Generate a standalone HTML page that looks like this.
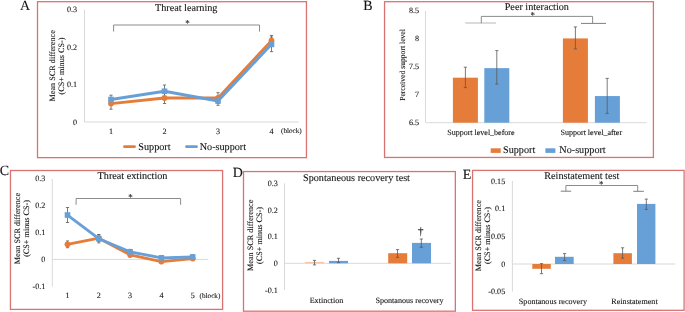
<!DOCTYPE html>
<html><head><meta charset="utf-8"><style>
html,body{margin:0;padding:0;background:#fff;}
body{width:685px;height:312px;overflow:hidden;}
svg{display:block;font-family:"Liberation Serif", serif;} text{stroke:#222;stroke-width:0.1px;} svg{text-rendering:geometricPrecision;will-change:transform;}
</style></head><body>
<svg width="685" height="312" viewBox="0 0 685 312">
<rect width="685" height="312" fill="#fff"/>
<rect x="37.5" y="1.7" width="268.95" height="155.95000000000002" fill="none" stroke="#DB7272" stroke-width="1.3"/>
<text x="20.0" y="9.8" font-size="14" text-anchor="start" fill="#111" >A</text>
<text x="186.2" y="10.5" font-size="10.2" text-anchor="middle" fill="#111" >Threat learning</text>
<line x1="84.5" y1="9.5" x2="84.5" y2="122" stroke="#D9D9D9" stroke-width="1"/>
<line x1="84.5" y1="122" x2="298.8" y2="122" stroke="#D9D9D9" stroke-width="1"/>
<text x="77.0" y="12.3" font-size="8.1" text-anchor="end" fill="#111" >0.3</text>
<text x="77.0" y="49.8" font-size="8.1" text-anchor="end" fill="#111" >0.2</text>
<text x="77.0" y="87.3" font-size="8.1" text-anchor="end" fill="#111" >0.1</text>
<text x="77.0" y="124.8" font-size="8.1" text-anchor="end" fill="#111" >0</text>
<text transform="translate(54.6,65.8) rotate(-90)" font-size="8.2" text-anchor="middle" fill="#111">Mean SCR difference</text>
<text transform="translate(63.9,66.0) rotate(-90)" font-size="8.2" text-anchor="middle" fill="#111">(CS+ minus CS-)</text>
<text x="111" y="133.9" font-size="8.1" text-anchor="middle" fill="#111" >1</text>
<text x="164.5" y="133.9" font-size="8.1" text-anchor="middle" fill="#111" >2</text>
<text x="218" y="133.9" font-size="8.1" text-anchor="middle" fill="#111" >3</text>
<text x="271.5" y="133.9" font-size="8.1" text-anchor="middle" fill="#111" >4</text>
<text x="281" y="132.9" font-size="7.2" text-anchor="start" fill="#111" >(block)</text>
<path d="M113.6,31.6 V25 H259.5 V31.6" fill="none" stroke="#7F7F7F" stroke-width="0.9"/>
<text x="187.4" y="26.3" font-size="9" text-anchor="middle" fill="#111" >*</text>
<line x1="111" y1="98.025" x2="111" y2="109.225" stroke="#595959" stroke-width="0.8"/>
<line x1="109.4" y1="98.025" x2="112.6" y2="98.025" stroke="#595959" stroke-width="0.8"/>
<line x1="109.4" y1="109.225" x2="112.6" y2="109.225" stroke="#595959" stroke-width="0.8"/>
<line x1="164.5" y1="92.5" x2="164.5" y2="103.5" stroke="#595959" stroke-width="0.8"/>
<line x1="162.9" y1="92.5" x2="166.1" y2="92.5" stroke="#595959" stroke-width="0.8"/>
<line x1="162.9" y1="103.5" x2="166.1" y2="103.5" stroke="#595959" stroke-width="0.8"/>
<line x1="218" y1="92.7" x2="218" y2="103.3" stroke="#595959" stroke-width="0.8"/>
<line x1="216.4" y1="92.7" x2="219.6" y2="92.7" stroke="#595959" stroke-width="0.8"/>
<line x1="216.4" y1="103.3" x2="219.6" y2="103.3" stroke="#595959" stroke-width="0.8"/>
<line x1="271.5" y1="35.425" x2="271.5" y2="45.825" stroke="#595959" stroke-width="0.8"/>
<line x1="269.9" y1="35.425" x2="273.1" y2="35.425" stroke="#595959" stroke-width="0.8"/>
<line x1="269.9" y1="45.825" x2="273.1" y2="45.825" stroke="#595959" stroke-width="0.8"/>
<line x1="111" y1="95.2" x2="111" y2="103.8" stroke="#595959" stroke-width="0.8"/>
<line x1="109.4" y1="95.2" x2="112.6" y2="95.2" stroke="#595959" stroke-width="0.8"/>
<line x1="109.4" y1="103.8" x2="112.6" y2="103.8" stroke="#595959" stroke-width="0.8"/>
<line x1="164.5" y1="85.0" x2="164.5" y2="97.5" stroke="#595959" stroke-width="0.8"/>
<line x1="162.9" y1="85.0" x2="166.1" y2="85.0" stroke="#595959" stroke-width="0.8"/>
<line x1="162.9" y1="97.5" x2="166.1" y2="97.5" stroke="#595959" stroke-width="0.8"/>
<line x1="218" y1="96.7" x2="218" y2="105.3" stroke="#595959" stroke-width="0.8"/>
<line x1="216.4" y1="96.7" x2="219.6" y2="96.7" stroke="#595959" stroke-width="0.8"/>
<line x1="216.4" y1="105.3" x2="219.6" y2="105.3" stroke="#595959" stroke-width="0.8"/>
<line x1="271.5" y1="37.075" x2="271.5" y2="51.675" stroke="#595959" stroke-width="0.8"/>
<line x1="269.9" y1="37.075" x2="273.1" y2="37.075" stroke="#595959" stroke-width="0.8"/>
<line x1="269.9" y1="51.675" x2="273.1" y2="51.675" stroke="#595959" stroke-width="0.8"/>
<polyline points="111,103.62 164.5,98.00 218,98.00 271.5,40.62" fill="none" stroke="#E57C39" stroke-width="2.8" stroke-linejoin="round"/>
<circle cx="111" cy="103.62" r="2.9" fill="#E57C39"/>
<circle cx="164.5" cy="98.00" r="2.9" fill="#E57C39"/>
<circle cx="218" cy="98.00" r="2.9" fill="#E57C39"/>
<circle cx="271.5" cy="40.62" r="2.9" fill="#E57C39"/>
<polyline points="111,99.50 164.5,91.25 218,101.00 271.5,44.38" fill="none" stroke="#66A0D7" stroke-width="2.8" stroke-linejoin="round"/>
<rect x="108.2" y="96.70" width="5.6" height="5.6" fill="#66A0D7"/>
<rect x="161.7" y="88.45" width="5.6" height="5.6" fill="#66A0D7"/>
<rect x="215.2" y="98.20" width="5.6" height="5.6" fill="#66A0D7"/>
<rect x="268.7" y="41.58" width="5.6" height="5.6" fill="#66A0D7"/>
<line x1="124.5" y1="146.7" x2="134.5" y2="146.7" stroke="#E57C39" stroke-width="2.8" stroke-linecap="round"/>
<text x="138.3" y="150.4" font-size="10.2" text-anchor="start" fill="#111" >Support</text>
<line x1="186.5" y1="146.7" x2="196.5" y2="146.7" stroke="#66A0D7" stroke-width="2.8" stroke-linecap="round"/>
<text x="199.7" y="150.4" font-size="10.2" text-anchor="start" fill="#111" >No-support</text>
<rect x="384.55" y="1.7" width="268.84999999999997" height="155.75" fill="none" stroke="#DB7272" stroke-width="1.3"/>
<text x="363.2" y="10.2" font-size="14" text-anchor="start" fill="#111" >B</text>
<text x="536.8" y="9.9" font-size="10.2" text-anchor="middle" fill="#111" >Peer interaction</text>
<line x1="425.5" y1="11" x2="425.5" y2="122.7" stroke="#D9D9D9" stroke-width="1"/>
<line x1="425.5" y1="122.7" x2="646.5" y2="122.7" stroke="#D9D9D9" stroke-width="1"/>
<text x="419.0" y="13.3" font-size="8.1" text-anchor="end" fill="#111" >8.5</text>
<text x="419.0" y="41.224999999999994" font-size="8.1" text-anchor="end" fill="#111" >8</text>
<text x="419.0" y="69.14999999999999" font-size="8.1" text-anchor="end" fill="#111" >7.5</text>
<text x="419.0" y="97.075" font-size="8.1" text-anchor="end" fill="#111" >7</text>
<text x="419.0" y="125.0" font-size="8.1" text-anchor="end" fill="#111" >6.5</text>
<text transform="translate(405.3,65.0) rotate(-90)" font-size="7.65" text-anchor="middle" fill="#111">Perceived support level</text>
<rect x="452.9" y="77.68" width="25" height="45.02" fill="#E57C39"/>
<rect x="484.3" y="68.13" width="25" height="54.57" fill="#66A0D7"/>
<rect x="562.9" y="38.42" width="25" height="84.28" fill="#E57C39"/>
<rect x="594.9" y="96.06" width="25" height="26.64" fill="#66A0D7"/>
<line x1="465.4" y1="67.2" x2="465.4" y2="87.6" stroke="#595959" stroke-width="0.8"/>
<line x1="463.79999999999995" y1="67.2" x2="467.0" y2="67.2" stroke="#595959" stroke-width="0.8"/>
<line x1="463.79999999999995" y1="87.6" x2="467.0" y2="87.6" stroke="#595959" stroke-width="0.8"/>
<line x1="496.8" y1="50.6" x2="496.8" y2="84.2" stroke="#595959" stroke-width="0.8"/>
<line x1="495.2" y1="50.6" x2="498.40000000000003" y2="50.6" stroke="#595959" stroke-width="0.8"/>
<line x1="495.2" y1="84.2" x2="498.40000000000003" y2="84.2" stroke="#595959" stroke-width="0.8"/>
<line x1="575.4" y1="26.9" x2="575.4" y2="48.9" stroke="#595959" stroke-width="0.8"/>
<line x1="573.8" y1="26.9" x2="577.0" y2="26.9" stroke="#595959" stroke-width="0.8"/>
<line x1="573.8" y1="48.9" x2="577.0" y2="48.9" stroke="#595959" stroke-width="0.8"/>
<line x1="607.2" y1="78.4" x2="607.2" y2="113.4" stroke="#595959" stroke-width="0.8"/>
<line x1="605.6" y1="78.4" x2="608.8000000000001" y2="78.4" stroke="#595959" stroke-width="0.8"/>
<line x1="605.6" y1="113.4" x2="608.8000000000001" y2="113.4" stroke="#595959" stroke-width="0.8"/>
<text x="480.9" y="135.1" font-size="8.0" text-anchor="middle" fill="#111" >Support level_before</text>
<text x="591.3" y="135.1" font-size="8.0" text-anchor="middle" fill="#111" >Support level_after</text>
<line x1="465.3" y1="23.0" x2="496.0" y2="23.0" stroke="#C8C8C8" stroke-width="1.3"/>
<line x1="581.0" y1="23.4" x2="606.0" y2="23.4" stroke="#7F7F7F" stroke-width="1.0"/>
<path d="M481.3,23.2 V16.4 H592.6 V23.4" fill="none" stroke="#7F7F7F" stroke-width="0.9"/>
<text x="532.8" y="17.9" font-size="9" text-anchor="middle" fill="#111" >*</text>
<rect x="490.7" y="148.3" width="10" height="4.6" fill="#E57C39"/>
<text x="503.0" y="153.3" font-size="10.2" text-anchor="start" fill="#111" >Support</text>
<rect x="545.4" y="148.3" width="10" height="4.6" fill="#66A0D7"/>
<text x="559.3" y="153.3" font-size="10.2" text-anchor="start" fill="#111" >No-support</text>
<rect x="10.45" y="170.5" width="212.15" height="138.89999999999998" fill="none" stroke="#DB7272" stroke-width="1.3"/>
<text x="-0.2" y="175.0" font-size="14" text-anchor="start" fill="#111" >C</text>
<text x="132.5" y="178.9" font-size="10.2" text-anchor="middle" fill="#111" >Threat extinction</text>
<line x1="52.3" y1="179.0" x2="52.3" y2="286.5" stroke="#D9D9D9" stroke-width="1"/>
<line x1="52.3" y1="259.4" x2="208.3" y2="259.4" stroke="#D9D9D9" stroke-width="1"/>
<text x="45.4" y="181.39999999999998" font-size="8.1" text-anchor="end" fill="#111" >0.3</text>
<text x="45.4" y="208.29999999999995" font-size="8.1" text-anchor="end" fill="#111" >0.2</text>
<text x="45.4" y="235.19999999999996" font-size="8.1" text-anchor="end" fill="#111" >0.1</text>
<text x="45.4" y="262.09999999999997" font-size="8.1" text-anchor="end" fill="#111" >0</text>
<text x="45.4" y="288.99999999999994" font-size="8.1" text-anchor="end" fill="#111" >-0.1</text>
<text transform="translate(20.3,228.6) rotate(-90)" font-size="8.2" text-anchor="middle" fill="#111">Mean SCR difference</text>
<text transform="translate(29.4,228.4) rotate(-90)" font-size="8.2" text-anchor="middle" fill="#111">(CS+ minus CS-)</text>
<text x="67.5" y="298.4" font-size="8.1" text-anchor="middle" fill="#111" >1</text>
<text x="98.8" y="298.4" font-size="8.1" text-anchor="middle" fill="#111" >2</text>
<text x="130.1" y="298.4" font-size="8.1" text-anchor="middle" fill="#111" >3</text>
<text x="161.4" y="298.4" font-size="8.1" text-anchor="middle" fill="#111" >4</text>
<text x="192.7" y="298.4" font-size="8.1" text-anchor="middle" fill="#111" >5</text>
<text x="199.6" y="298.0" font-size="7.2" text-anchor="start" fill="#111" >(block)</text>
<path d="M76.1,204.8 V198.5 H180.6 V204.8" fill="none" stroke="#7F7F7F" stroke-width="0.9"/>
<text x="130.4" y="199.7" font-size="9" text-anchor="middle" fill="#111" >*</text>
<line x1="67.5" y1="240.93599999999998" x2="67.5" y2="247.736" stroke="#595959" stroke-width="0.8"/>
<line x1="65.9" y1="240.93599999999998" x2="69.1" y2="240.93599999999998" stroke="#595959" stroke-width="0.8"/>
<line x1="65.9" y1="247.736" x2="69.1" y2="247.736" stroke="#595959" stroke-width="0.8"/>
<line x1="98.8" y1="234.94899999999998" x2="98.8" y2="241.34899999999996" stroke="#595959" stroke-width="0.8"/>
<line x1="97.2" y1="234.94899999999998" x2="100.39999999999999" y2="234.94899999999998" stroke="#595959" stroke-width="0.8"/>
<line x1="97.2" y1="241.34899999999996" x2="100.39999999999999" y2="241.34899999999996" stroke="#595959" stroke-width="0.8"/>
<line x1="130.1" y1="252.62699999999998" x2="130.1" y2="257.027" stroke="#595959" stroke-width="0.8"/>
<line x1="128.5" y1="252.62699999999998" x2="131.7" y2="252.62699999999998" stroke="#595959" stroke-width="0.8"/>
<line x1="128.5" y1="257.027" x2="131.7" y2="257.027" stroke="#595959" stroke-width="0.8"/>
<line x1="161.4" y1="259.55199999999996" x2="161.4" y2="263.55199999999996" stroke="#595959" stroke-width="0.8"/>
<line x1="159.8" y1="259.55199999999996" x2="163.0" y2="259.55199999999996" stroke="#595959" stroke-width="0.8"/>
<line x1="159.8" y1="263.55199999999996" x2="163.0" y2="263.55199999999996" stroke="#595959" stroke-width="0.8"/>
<line x1="192.7" y1="256.79299999999995" x2="192.7" y2="260.393" stroke="#595959" stroke-width="0.8"/>
<line x1="191.1" y1="256.79299999999995" x2="194.29999999999998" y2="256.79299999999995" stroke="#595959" stroke-width="0.8"/>
<line x1="191.1" y1="260.393" x2="194.29999999999998" y2="260.393" stroke="#595959" stroke-width="0.8"/>
<line x1="67.5" y1="207.515" x2="67.5" y2="222.515" stroke="#595959" stroke-width="0.8"/>
<line x1="65.9" y1="207.515" x2="69.1" y2="207.515" stroke="#595959" stroke-width="0.8"/>
<line x1="65.9" y1="222.515" x2="69.1" y2="222.515" stroke="#595959" stroke-width="0.8"/>
<line x1="98.8" y1="234.487" x2="98.8" y2="242.88699999999997" stroke="#595959" stroke-width="0.8"/>
<line x1="97.2" y1="234.487" x2="100.39999999999999" y2="234.487" stroke="#595959" stroke-width="0.8"/>
<line x1="97.2" y1="242.88699999999997" x2="100.39999999999999" y2="242.88699999999997" stroke="#595959" stroke-width="0.8"/>
<line x1="130.1" y1="249.36799999999997" x2="130.1" y2="254.36799999999997" stroke="#595959" stroke-width="0.8"/>
<line x1="128.5" y1="249.36799999999997" x2="131.7" y2="249.36799999999997" stroke="#595959" stroke-width="0.8"/>
<line x1="128.5" y1="254.36799999999997" x2="131.7" y2="254.36799999999997" stroke="#595959" stroke-width="0.8"/>
<line x1="161.4" y1="255.586" x2="161.4" y2="259.986" stroke="#595959" stroke-width="0.8"/>
<line x1="159.8" y1="255.586" x2="163.0" y2="255.586" stroke="#595959" stroke-width="0.8"/>
<line x1="159.8" y1="259.986" x2="163.0" y2="259.986" stroke="#595959" stroke-width="0.8"/>
<line x1="192.7" y1="254.779" x2="192.7" y2="259.179" stroke="#595959" stroke-width="0.8"/>
<line x1="191.1" y1="254.779" x2="194.29999999999998" y2="254.779" stroke="#595959" stroke-width="0.8"/>
<line x1="191.1" y1="259.179" x2="194.29999999999998" y2="259.179" stroke="#595959" stroke-width="0.8"/>
<polyline points="67.5,244.34 98.8,238.15 130.1,254.83 161.4,261.55 192.7,258.59" fill="none" stroke="#E57C39" stroke-width="2.8" stroke-linejoin="round"/>
<circle cx="67.5" cy="244.34" r="2.9" fill="#E57C39"/>
<circle cx="98.8" cy="238.15" r="2.9" fill="#E57C39"/>
<circle cx="130.1" cy="254.83" r="2.9" fill="#E57C39"/>
<circle cx="161.4" cy="261.55" r="2.9" fill="#E57C39"/>
<circle cx="192.7" cy="258.59" r="2.9" fill="#E57C39"/>
<polyline points="67.5,215.01 98.8,238.69 130.1,251.87 161.4,257.79 192.7,256.98" fill="none" stroke="#66A0D7" stroke-width="2.8" stroke-linejoin="round"/>
<rect x="64.7" y="212.21" width="5.6" height="5.6" fill="#66A0D7"/>
<rect x="96.0" y="235.89" width="5.6" height="5.6" fill="#66A0D7"/>
<rect x="127.3" y="249.07" width="5.6" height="5.6" fill="#66A0D7"/>
<rect x="158.6" y="254.99" width="5.6" height="5.6" fill="#66A0D7"/>
<rect x="189.89999999999998" y="254.18" width="5.6" height="5.6" fill="#66A0D7"/>
<rect x="243.5" y="171.55" width="211.85000000000002" height="139.64999999999998" fill="none" stroke="#DB7272" stroke-width="1.3"/>
<text x="232.8" y="177.2" font-size="14" text-anchor="start" fill="#111" >D</text>
<text x="356.5" y="180.7" font-size="10.2" text-anchor="middle" fill="#111" >Spontaneous recovery test</text>
<line x1="284.5" y1="183.3" x2="284.5" y2="290.0" stroke="#D9D9D9" stroke-width="1"/>
<line x1="284.5" y1="263.3" x2="450.8" y2="263.3" stroke="#D9D9D9" stroke-width="1"/>
<text x="277.9" y="185.95999999999998" font-size="8.1" text-anchor="end" fill="#111" >0.3</text>
<text x="277.9" y="212.64" font-size="8.1" text-anchor="end" fill="#111" >0.2</text>
<text x="277.9" y="239.32" font-size="8.1" text-anchor="end" fill="#111" >0.1</text>
<text x="277.9" y="266.0" font-size="8.1" text-anchor="end" fill="#111" >0</text>
<text x="277.9" y="292.68" font-size="8.1" text-anchor="end" fill="#111" >-0.1</text>
<text transform="translate(253.4,235.3) rotate(-90)" font-size="8.2" text-anchor="middle" fill="#111">Mean SCR difference</text>
<text transform="translate(262.4,235.5) rotate(-90)" font-size="8.2" text-anchor="middle" fill="#111">(CS+ minus CS-)</text>
<rect x="305.0" y="261.9" width="19" height="1.4" fill="#F5C6A5"/>
<rect x="329.0" y="260.9" width="19" height="2.4" fill="#66A0D7"/>
<rect x="388.2" y="253.2" width="19" height="10.1" fill="#E57C39"/>
<rect x="412.0" y="242.9" width="19" height="20.4" fill="#66A0D7"/>
<line x1="314.5" y1="260.4" x2="314.5" y2="264.9" stroke="#595959" stroke-width="0.8"/>
<line x1="312.9" y1="260.4" x2="316.1" y2="260.4" stroke="#595959" stroke-width="0.8"/>
<line x1="312.9" y1="264.9" x2="316.1" y2="264.9" stroke="#595959" stroke-width="0.8"/>
<line x1="338.5" y1="258.3" x2="338.5" y2="262.6" stroke="#595959" stroke-width="0.8"/>
<line x1="336.9" y1="258.3" x2="340.1" y2="258.3" stroke="#595959" stroke-width="0.8"/>
<line x1="336.9" y1="262.6" x2="340.1" y2="262.6" stroke="#595959" stroke-width="0.8"/>
<line x1="397.5" y1="249.6" x2="397.5" y2="257.4" stroke="#595959" stroke-width="0.8"/>
<line x1="395.9" y1="249.6" x2="399.1" y2="249.6" stroke="#595959" stroke-width="0.8"/>
<line x1="395.9" y1="257.4" x2="399.1" y2="257.4" stroke="#595959" stroke-width="0.8"/>
<line x1="421.3" y1="239.0" x2="421.3" y2="247.3" stroke="#595959" stroke-width="0.8"/>
<line x1="419.7" y1="239.0" x2="422.90000000000003" y2="239.0" stroke="#595959" stroke-width="0.8"/>
<line x1="419.7" y1="247.3" x2="422.90000000000003" y2="247.3" stroke="#595959" stroke-width="0.8"/>
<text x="420.7" y="235.0" font-size="11" text-anchor="middle" fill="#111" >†</text>
<text x="326.5" y="302.6" font-size="8.1" text-anchor="middle" fill="#111" >Extinction</text>
<text x="409.5" y="302.6" font-size="8.1" text-anchor="middle" fill="#111" >Spontanous recovery</text>
<rect x="472.55" y="170.4" width="211.55" height="139.9" fill="none" stroke="#DB7272" stroke-width="1.3"/>
<text x="462.8" y="178.8" font-size="14" text-anchor="start" fill="#111" >E</text>
<text x="581.8" y="179.3" font-size="10.2" text-anchor="middle" fill="#111" >Reinstatement test</text>
<line x1="512.4" y1="181.0" x2="512.4" y2="291.6" stroke="#D9D9D9" stroke-width="1"/>
<line x1="512.4" y1="264.0" x2="675.4" y2="264.0" stroke="#D9D9D9" stroke-width="1"/>
<text x="505.2" y="183.75" font-size="8.1" text-anchor="end" fill="#111" >0.15</text>
<text x="505.2" y="211.39999999999998" font-size="8.1" text-anchor="end" fill="#111" >0.1</text>
<text x="505.2" y="239.04999999999998" font-size="8.1" text-anchor="end" fill="#111" >0.05</text>
<text x="505.2" y="266.7" font-size="8.1" text-anchor="end" fill="#111" >0</text>
<text x="505.2" y="294.34999999999997" font-size="8.1" text-anchor="end" fill="#111" >-0.05</text>
<text transform="translate(481.3,235.7) rotate(-90)" font-size="8.2" text-anchor="middle" fill="#111">Mean SCR difference</text>
<text transform="translate(490.3,235.6) rotate(-90)" font-size="8.2" text-anchor="middle" fill="#111">(CS+ minus CS-)</text>
<rect x="532.3" y="264.0" width="18.5" height="4.8" fill="#E57C39"/>
<rect x="555.0" y="256.8" width="18.7" height="7.2" fill="#66A0D7"/>
<rect x="613.4" y="253.2" width="18.5" height="10.8" fill="#E57C39"/>
<rect x="637.0" y="203.9" width="18.4" height="60.1" fill="#66A0D7"/>
<line x1="541.5" y1="263.6" x2="541.5" y2="273.7" stroke="#595959" stroke-width="0.8"/>
<line x1="539.9" y1="263.6" x2="543.1" y2="263.6" stroke="#595959" stroke-width="0.8"/>
<line x1="539.9" y1="273.7" x2="543.1" y2="273.7" stroke="#595959" stroke-width="0.8"/>
<line x1="564.6" y1="253.6" x2="564.6" y2="260.5" stroke="#595959" stroke-width="0.8"/>
<line x1="563.0" y1="253.6" x2="566.2" y2="253.6" stroke="#595959" stroke-width="0.8"/>
<line x1="563.0" y1="260.5" x2="566.2" y2="260.5" stroke="#595959" stroke-width="0.8"/>
<line x1="622.6" y1="247.8" x2="622.6" y2="258.1" stroke="#595959" stroke-width="0.8"/>
<line x1="621.0" y1="247.8" x2="624.2" y2="247.8" stroke="#595959" stroke-width="0.8"/>
<line x1="621.0" y1="258.1" x2="624.2" y2="258.1" stroke="#595959" stroke-width="0.8"/>
<line x1="646.3" y1="199.1" x2="646.3" y2="209.4" stroke="#595959" stroke-width="0.8"/>
<line x1="644.6999999999999" y1="199.1" x2="647.9" y2="199.1" stroke="#595959" stroke-width="0.8"/>
<line x1="644.6999999999999" y1="209.4" x2="647.9" y2="209.4" stroke="#595959" stroke-width="0.8"/>
<line x1="560.7" y1="191.2" x2="571.2" y2="191.2" stroke="#7F7F7F" stroke-width="1.0"/>
<line x1="633.3" y1="191.3" x2="643.9" y2="191.3" stroke="#7F7F7F" stroke-width="1.0"/>
<path d="M565.9,191.2 V185.5 H637.7 V191.3" fill="none" stroke="#7F7F7F" stroke-width="0.9"/>
<text x="601.3" y="186.9" font-size="9" text-anchor="middle" fill="#111" >*</text>
<text x="552.9" y="303.7" font-size="8.1" text-anchor="middle" fill="#111" >Spontanous recovery</text>
<text x="634.5" y="303.7" font-size="8.1" text-anchor="middle" fill="#111" >Reinstatement</text>
</svg>
</body></html>
